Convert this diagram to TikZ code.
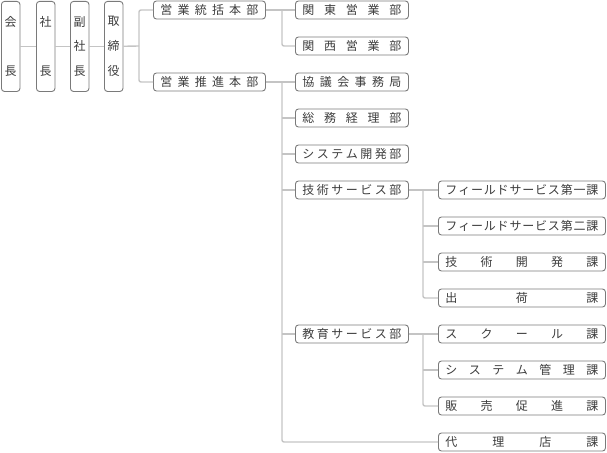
\documentclass[tikz,border=0pt]{standalone}
\usepackage{fontspec}
\setmainfont{Noto Sans CJK JP}
\definecolor{frameline}{HTML}{7A7A7A}
\definecolor{linkline}{HTML}{C4C4C4}
\definecolor{ink}{HTML}{3C3C3C}
\makeatletter
\newcommand\spreadh[2]{\makebox[#1][s]{\let\gap\relax\@tfor\ch:=#2\do{\gap\ch\let\gap\hfill}}}
\newcommand\spreadv[2]{\parbox[c][#1][s]{14pt}{\centering\let\gap\relax\@tfor\ch:=#2\do{\gap\ch\endgraf\let\gap\vfill}}}
\makeatother

\begin{document}
\begin{tikzpicture}[x=1pt,y=-1pt,every node/.style={draw=frameline, line width=0.9pt, rounded corners=3pt, text=ink, font=\fontsize{12}{14}\selectfont},post/.style={minimum width=18.5pt, minimum height=90pt, inner sep=0pt, anchor=north west},dept/.style={minimum height=18pt, inner xsep=7pt, inner ysep=0pt, text height=10.56pt, text depth=1.44pt, anchor=west},link/.style={draw=linkline, line width=1.4pt, rounded corners=2pt}]
\useasboundingbox (0,0) rectangle (607,452);
% top posts
\node[post] (kaicho) at (1,1) {\spreadv{59pt}{会長}};
\node[post] (shacho) at (36,1) {\spreadv{59pt}{社長}};
\node[post] (fukushacho) at (70,1) {\spreadv{59pt}{副社長}};
\node[post] (torishimari) at (104,1) {\spreadv{59pt}{取締役}};
% headquarters
\node[dept] (tokatsu) at (153,10) {\spreadh{98pt}{営業統括本部}};
\node[dept] (suishin) at (153,82) {\spreadh{98pt}{営業推進本部}};
% departments
\node[dept] (kanto) at (295,10) {\spreadh{99pt}{関東営業部}};
\node[dept] (kansai) at (295,46) {\spreadh{99pt}{関西営業部}};
\node[dept] (kyogikai) at (295,82) {\spreadh{99pt}{協議会事務局}};
\node[dept] (somu) at (295,118) {\spreadh{99pt}{総務経理部}};
\node[dept] (system) at (295,154) {\spreadh{99pt}{システム開発部}};
\node[dept] (gijutsu) at (295,190) {\spreadh{99pt}{技術サービス部}};
\node[dept] (kyoiku) at (295,334) {\spreadh{99pt}{教育サービス部}};
% sections
\node[dept] (field1) at (438,190) {\spreadh{153pt}{フィールドサービス第一課}};
\node[dept] (field2) at (438,226) {\spreadh{153pt}{フィールドサービス第二課}};
\node[dept] (kaihatsu) at (438,262) {\spreadh{153pt}{技術開発課}};
\node[dept] (shukka) at (438,298) {\spreadh{153pt}{出荷課}};
\node[dept] (school) at (438,334) {\spreadh{153pt}{スクール課}};
\node[dept] (kanri) at (438,370) {\spreadh{153pt}{システム管理課}};
\node[dept] (hansoku) at (438,406) {\spreadh{153pt}{販売促進課}};
\node[dept] (dairiten) at (438,442) {\spreadh{153pt}{代理店課}};
% connectors
\foreach \a/\b in {kaicho/shacho,shacho/fukushacho,fukushacho/torishimari}
  \draw[link] (\a) -- (\b);
\coordinate (busA) at (139,46);
\draw[link] (torishimari) -- (busA);
\draw[link] (tokatsu.west) -| (busA) |- (suishin.west);
\coordinate (busB) at (282,10);
\draw[link] (tokatsu) -- (kanto);
\draw[link] (busB) |- (kansai.west);
\coordinate (busC) at (282,82);
\draw[link] (suishin) -- (kyogikai);
\draw[link] (busC) |- (dairiten.west);
\foreach \n in {somu,system,gijutsu,kyoiku}
  \draw[link] (busC |- \n.west) -- (\n.west);
\coordinate (busD) at (423,190);
\draw[link] (gijutsu) -- (field1);
\draw[link] (busD) |- (shukka.west);
\foreach \n in {field2,kaihatsu}
  \draw[link] (busD |- \n.west) -- (\n.west);
\coordinate (busE) at (423,334);
\draw[link] (kyoiku) -- (school);
\draw[link] (busE) |- (hansoku.west);
\draw[link] (busE |- kanri.west) -- (kanri.west);
\end{tikzpicture}
\end{document}
